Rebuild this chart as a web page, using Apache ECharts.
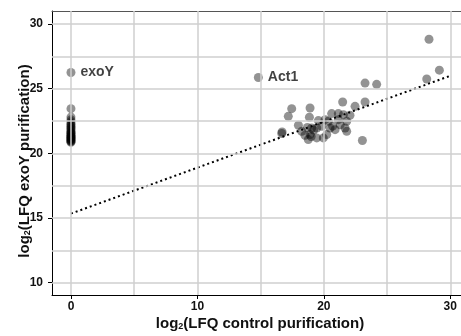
<!DOCTYPE html>
<html>
<head>
<meta charset="utf-8">
<script src="https://cdn.jsdelivr.net/npm/echarts@6/dist/echarts.min.js"></script>
<style>
html,body{margin:0;padding:0;background:#fff;}
#chart{width:461px;height:336px;}
</style>
</head>
<body>
<div id="chart"></div>
<script>
// ---- data ----
// proteins only found in exoY purification (control = 0)
var zeroX = [0,0,0,0,0,0,0,0,0,0,0,0,0,0,0,0,0,0,0,0,0,0,0,0,0,0];
var zeroY = [20.85,20.9,20.95,21.0,21.05,21.1,21.15,21.2,21.25,21.3,21.35,21.4,21.5,21.55,21.6,21.7,21.8,21.9,22.0,22.1,22.2,22.3,22.45,22.6,22.8,23.45];
// proteins found in both purifications
var bothX = [16.67,16.7,17.19,17.46,17.99,18.25,18.51,18.77,18.91,18.91,18.86,19.04,19.44,19.44,19.57,19.83,19.96,20.1,20.23,20.36,20.49,20.62,20.89,21.15,21.15,21.49,21.55,21.68,21.81,21.81,22.07,22.47,23.05,23.26,23.26,24.18,28.14,29.14,28.32,18.7,19.2,20.7,19.0,21.3];
var bothY = [21.53,21.65,22.86,23.45,22.17,21.7,21.4,21.06,21.45,23.5,22.79,21.96,21.96,21.19,22.53,22.09,21.19,22.6,21.45,22.47,21.96,23.07,21.83,23.07,22.6,23.97,22.99,21.96,21.7,22.47,22.94,23.63,20.99,23.97,25.43,25.33,25.74,26.43,28.82,22.0,21.8,22.1,21.3,22.2];
// labelled proteins
var labelNames = ['exoY','Act1'];
var labelX = [0,14.82];
var labelY = [26.25,25.86];
// regression fit
var fitIntercept = 15.34;
var fitSlope = 0.355;
var fitRange = [0,30];
// axes
var xTicks = [0,10,20,30];
var yTicks = [10,15,20,25,30];
var xGridVals = [0,5,10,15,20,25,30];
var yGridVals = [10,12.5,15,17.5,20,22.5,25,27.5,30];
var xTitle = '{p|}log{s|2}(LFQ control purification)';
var yTitle = 'log{s|2}(LFQ exoY purification){q|}';

// ---- build ----
var FONT = '"Liberation Sans", Arial, sans-serif';
var pointColor = 'rgba(0,0,0,0.53)';
function zip(a,b){return a.map(function(v,i){return [v,b[i]];});}
var fitData = fitRange.map(function(x){return [x, fitIntercept + fitSlope*x];});
var labelData = labelNames.map(function(n,i){return {name:n, value:[labelX[i],labelY[i]]};});
var gridLines = xGridVals.map(function(v){return {xAxis:v};}).concat(yGridVals.map(function(v){return {yAxis:v};}));

var nameStyle = {
  fontFamily: FONT, fontWeight: 'bold', fontSize: 15, color: '#111',
  rich: {
    s: { fontFamily: FONT, fontWeight: 'bold', fontSize: 9, color: '#111', verticalAlign: 'bottom', padding:[6,0,0,0] },
    p: { width: 7 },
    q: { width: 16 }
  }
};

var chart = echarts.init(document.getElementById('chart'), null, {renderer:'canvas'});
chart.setOption({
  animation: false,
  backgroundColor: '#fff',
  grid: {left: 52, right: 0, top: 11, bottom: 40, containLabel: false},
  xAxis: [{
    type: 'value', min: -1.5, max: 30.85,
    name: xTitle, nameLocation: 'middle', nameGap: 21, nameMoveOverlap: false, nameTextStyle: nameStyle,
    axisLine: {show: true, onZero: false, lineStyle: {color: '#000', width: 1}},
    axisTick: {show: true, length: 4, customValues: xTicks, lineStyle: {color: '#000'}},
    axisLabel: {customValues: xTicks, margin: 6, fontFamily: FONT, fontWeight: 'bold', fontSize: 12, color: '#111'},
    splitLine: {show: false}
  },{
    type: 'value', position: 'top', min: -1.5, max: 30.85,
    axisLine: {show: true, onZero: false, lineStyle: {color: '#555', width: 1}},
    axisTick: {show: false}, axisLabel: {show: false}, splitLine: {show: false}
  }],
  yAxis: {
    type: 'value', min: 9.05, max: 31,
    name: yTitle, nameLocation: 'middle', nameGap: 20, nameMoveOverlap: false, nameTextStyle: nameStyle,
    axisLine: {show: true, onZero: false, lineStyle: {color: '#000', width: 1}},
    axisTick: {show: true, length: 4, customValues: yTicks, lineStyle: {color: '#000'}},
    axisLabel: {customValues: yTicks, margin: 9, fontFamily: FONT, fontWeight: 'bold', fontSize: 12, color: '#111'},
    splitLine: {show: false}
  },
  series: [
    {
      type: 'line', data: [], z: 1, silent: true,
      markLine: {silent: true, symbol: ['none','none'], label: {show: false},
        lineStyle: {color: '#cfcfcf', width: 1.5, type: 'solid'}, data: gridLines, animation: false}
    },
    {
      type: 'line', data: fitData, z: 2, symbol: 'none', silent: true,
      lineStyle: {color: '#000', width: 2, type: [2, 3]}
    },
    {
      type: 'scatter', data: zip(zeroX, zeroY), z: 3, symbolSize: 9,
      itemStyle: {color: pointColor}
    },
    {
      type: 'scatter', data: zip(bothX, bothY), z: 3, symbolSize: 9,
      itemStyle: {color: pointColor}
    },
    {
      type: 'scatter', data: labelData, z: 3, symbolSize: 9,
      itemStyle: {color: pointColor},
      label: {show: true, position: 'right', distance: 5, formatter: '{b}',
        fontFamily: FONT, fontWeight: 'bold', fontSize: 14, color: '#111'}
    }
  ]
});
</script>
</body>
</html>
